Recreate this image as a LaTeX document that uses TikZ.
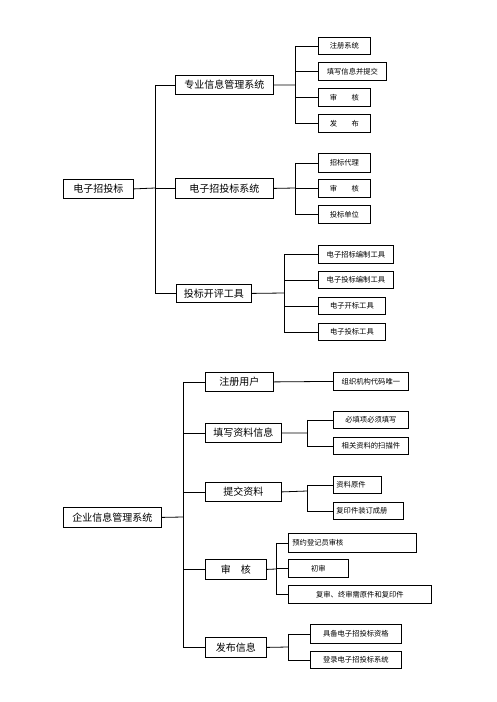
\documentclass[tikz,border=0pt]{standalone}
\usepackage{fontspec}
\setmainfont{Noto Sans CJK SC}
\begin{document}
\begin{tikzpicture}[x=1pt,y=-1pt,
  bx/.style={draw, line width=0.8pt, inner sep=0pt, anchor=north west, font=\fontsize{10}{12}\selectfont},
  lf/.style={draw, line width=0.8pt, inner sep=0pt, anchor=north west, font=\fontsize{7.3}{9}\selectfont},
  ln/.style={line width=0.8pt}]
\useasboundingbox (0,0) rectangle (496,702);
% helper macro
\newcommand{\bxn}[7]{\node[#1, minimum width=#4-#2, minimum height=#5-#3] (#6) at (#2,#3) {#7};}
\newcommand{\bxl}[8]{\node[#1, minimum width=#4-#2, minimum height=#5-#3, text width=#4-#2-#8, inner xsep=0pt, align=left] (#6) at (#2+#8,#3) {#7};}
% ---------- top diagram ----------
\bxn{bx}{63}{179}{133}{198}{r1}{电子招投标}
\bxn{bx}{175}{75}{273}{94}{a1}{专业信息管理系统}
\bxn{bx}{175}{178}{273}{198}{a2}{电子招投标系统}
\bxn{bx}{176}{284}{251}{302}{a3}{投标开评工具}
\bxn{lf}{318}{37}{370}{54}{a11}{注册系统}
\bxn{lf}{318}{62}{386}{80}{a12}{填写信息并提交}
\bxn{lf}{318}{88}{370}{106}{a13}{审\hspace{2em}核}
\bxn{lf}{318}{114}{370}{132}{a14}{发\hspace{2em}布}
\bxn{lf}{318}{153}{370}{172}{a21}{招标代理}
\bxn{lf}{318}{179}{370}{197}{a22}{审\hspace{2em}核}
\bxn{lf}{318}{205}{370}{223}{a23}{投标单位}
\bxn{lf}{318}{245}{393}{263}{a31}{电子招标编制工具}
\bxn{lf}{318}{271}{393}{288}{a32}{电子投标编制工具}
\bxn{lf}{318}{297}{385}{314}{a33}{电子开标工具}
\bxn{lf}{318}{323}{385}{340}{a34}{电子投标工具}
\coordinate (t0) at (155,188);
\coordinate (t1) at (295,85);
\coordinate (t2) at (295,188);
\coordinate (t3) at (284,293);
\draw[ln] (r1.east) -- (t0);
\draw[ln] (t0 |- a1.west) -- (t0 |- a3.west);
\foreach \c in {a1,a2,a3} \draw[ln] (t0 |- \c.west) -- (\c.west);
\draw[ln] (a1.east) -- (t1);
\draw[ln] (t1 |- a11.west) -- (t1 |- a14.west);
\foreach \c in {a11,a12,a13,a14} \draw[ln] (t1 |- \c.west) -- (\c.west);
\draw[ln] (a2.east) -- (t2);
\draw[ln] (t2 |- a21.west) -- (t2 |- a23.west);
\foreach \c in {a21,a22,a23} \draw[ln] (t2 |- \c.west) -- (\c.west);
\draw[ln] (a3.east) -- (t3);
\draw[ln] (t3 |- a31.west) -- (t3 |- a34.west);
\foreach \c in {a31,a32,a33,a34} \draw[ln] (t3 |- \c.west) -- (\c.west);
% ---------- bottom diagram ----------
\bxn{bx}{63}{507}{161}{527}{r2}{企业信息管理系统}
\bxn{bx}{205}{372}{273}{391}{b1}{注册用户}
\bxn{bx}{205}{423}{281}{442}{b2}{填写资料信息}
\bxn{bx}{205}{482}{281}{501}{b3}{提交资料}
\bxn{bx}{205}{559}{266}{579}{b4}{审\hspace{1em}核}
\bxn{bx}{205}{637}{266}{657}{b5}{发布信息}
\bxn{lf}{333}{372}{408}{390}{c11}{组织机构代码唯一}
\bxn{lf}{333}{411}{408}{428}{c21}{必填项必须填写}
\bxn{lf}{333}{437}{408}{454}{c22}{相关资料的扫描件}
\node[lf, minimum width=45, minimum height=17, text width=42, inner xsep=3pt, align=left] (c31) at (333,476) {资料原件};
\node[lf, minimum width=67, minimum height=17, text width=64, inner xsep=3pt, align=left] (c32) at (333,502) {复印件装订成册};
\node[lf, minimum width=128, minimum height=19, text width=120, inner xsep=4pt, align=left] (c41) at (288,533) {预约登记员审核};
\bxn{lf}{288}{559}{348}{577}{c42}{初审}
\bxn{lf}{288}{585}{431}{603}{c43}{复审、终审需原件和复印件}
\bxn{lf}{310}{624}{401}{643}{c51}{具备电子招投标资格}
\bxn{lf}{310}{651}{401}{668}{c52}{登录电子招投标系统}
\coordinate (s0) at (183,517);
\coordinate (s2) at (307,433);
\coordinate (s3) at (307,491);
\coordinate (s4) at (276,569);
\coordinate (s5) at (288,647);
\draw[ln] (r2.east) -- (s0);
\draw[ln] (s0 |- b1.west) -- (s0 |- b5.west);
\foreach \c in {b1,b2,b3,b4,b5} \draw[ln] (s0 |- \c.west) -- (\c.west);
\draw[ln] (b1.east) -- (c11.west);
\draw[ln] (b2.east) -- (s2);
\draw[ln] (s2 |- c21.west) -- (s2 |- c22.west);
\foreach \c in {c21,c22} \draw[ln] (s2 |- \c.west) -- (\c.west);
\draw[ln] (b3.east) -- (s3);
\draw[ln] (s3 |- c31.west) -- (s3 |- c32.west);
\foreach \c in {c31,c32} \draw[ln] (s3 |- \c.west) -- (\c.west);
\draw[ln] (b4.east) -- (s4);
\draw[ln] (s4 |- c41.west) -- (s4 |- c43.west);
\foreach \c in {c41,c42,c43} \draw[ln] (s4 |- \c.west) -- (\c.west);
\draw[ln] (b5.east) -- (s5);
\draw[ln] (s5 |- c51.west) -- (s5 |- c52.west);
\foreach \c in {c51,c52} \draw[ln] (s5 |- \c.west) -- (\c.west);
\end{tikzpicture}
\end{document}
